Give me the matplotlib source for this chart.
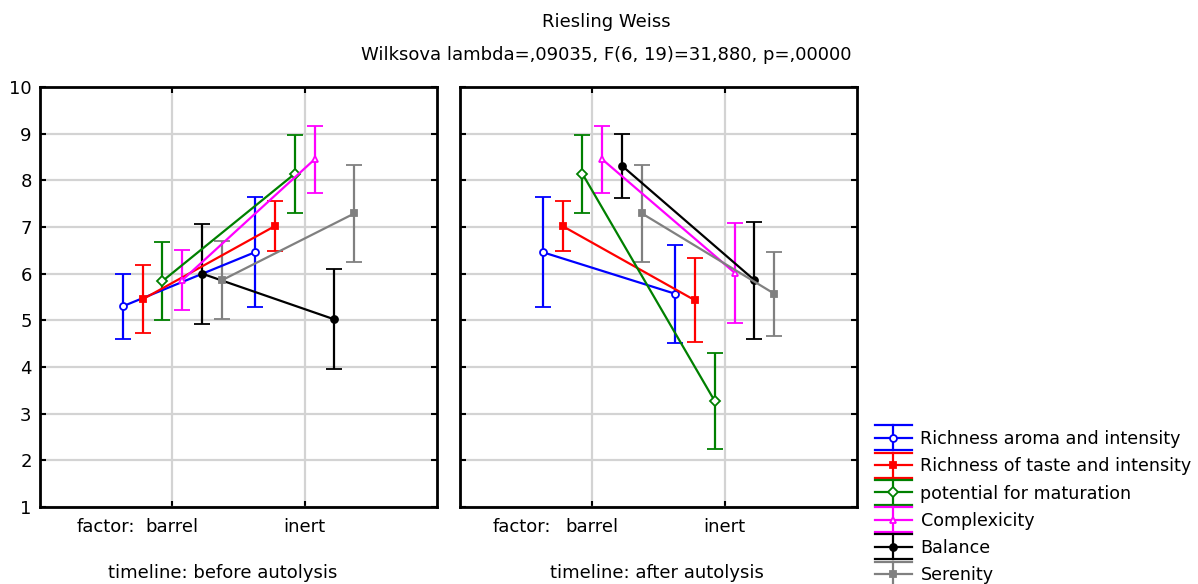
import matplotlib
matplotlib.use('Agg')
import matplotlib.pyplot as plt
from matplotlib.container import ErrorbarContainer
from matplotlib.legend_handler import HandlerBase
from matplotlib.lines import Line2D
import numpy as np

matplotlib.rcParams['font.family'] = ['DejaVu Sans']
matplotlib.rcParams['font.size'] = 13

factors = ['barrel', 'inert']
series = ['Richness aroma and intensity', 'Richness of taste and intensity',
          'potential for maturation', 'Complexicity', 'Balance', 'Serenity']
colors = ['#0000ff', '#ff0000', '#008000', '#ff00ff', '#000000', '#808080']
markers = ['o', 's', 'D', '^', 'o', 's']
filled = [False, True, False, False, True, True]

# means [barrel, inert] and half-width of the error bars
before_mean = [[5.30, 6.46], [5.45, 7.02], [5.84, 8.14], [5.86, 8.45], [6.00, 5.02], [5.86, 7.29]]
before_err = [[0.69, 1.18], [0.73, 0.54], [0.83, 0.83], [0.64, 0.72], [1.07, 1.07], [0.83, 1.03]]
after_mean = [[6.46, 5.57], [7.02, 5.43], [8.14, 3.27], [8.45, 6.02], [8.31, 5.86], [7.29, 5.57]]
after_err = [[1.18, 1.05], [0.54, 0.90], [0.83, 1.03], [0.72, 1.07], [0.69, 1.25], [1.03, 0.90]]
timelines = ['timeline: before autolysis', 'timeline: after autolysis']


class WideCapHandler(HandlerBase):
    # legend key like Statistica: caps as wide as the line
    def create_artists(self, legend, orig_handle, xdescent, ydescent, width, height, fontsize, trans):
        ln = orig_handle.lines[0]
        c = ln.get_color()
        x0, x1 = -xdescent, -xdescent + width
        yc = height / 2 - ydescent
        dy = 9.0
        xm = (x0 + x1) / 2
        arts = [Line2D([x0, x1], [yc, yc], color=c, lw=1.6),
                Line2D([x0, x1], [yc + dy, yc + dy], color=c, lw=1.6),
                Line2D([x0, x1], [yc - dy, yc - dy], color=c, lw=1.6),
                Line2D([xm, xm], [yc - dy, yc + dy], color=c, lw=1.6),
                Line2D([xm], [yc], marker=ln.get_marker(), markersize=5, color=c,
                       mfc=ln.get_markerfacecolor(), mec=c, mew=1.3)]
        for a in arts:
            a.set_transform(trans)
        return arts


fig = plt.figure(figsize=(11.98, 5.84), dpi=100)
W, H = 1198, 584
ax1 = fig.add_axes([40 / W, 77 / H, 397 / W, 420 / H])
ax2 = fig.add_axes([460 / W, 77 / H, 397 / W, 420 / H])

base = np.array([1, 2])
offsets = (np.arange(6) - 2.5) * 0.15
handles = []
for ax, means, errs, fx in [(ax1, before_mean, before_err, -27), (ax2, after_mean, after_err, -30)]:
    for i in range(6):
        h = ax.errorbar(base + offsets[i], means[i], yerr=errs[i], color=colors[i],
                        marker=markers[i], markersize=5, mfc=colors[i] if filled[i] else 'white',
                        mec=colors[i], mew=1.3, lw=1.6, elinewidth=1.6, capsize=6, capthick=1.6)
        if ax is ax1:
            handles.append(h)
    ax.set_xlim(0, 3)
    ax.set_ylim(1, 10)
    ax.set_yticks(range(1, 11))
    ax.set_xticks(base)
    ax.set_xticklabels(factors)
    ax.grid(True, color='#d3d3d3', lw=1.6)
    ax.set_axisbelow(True)
    ax.tick_params(direction='in', length=4, width=1.5, top=True, right=True, pad=6)
    ax.tick_params(axis='x', pad=8)
    for s in ax.spines.values():
        s.set_linewidth(2)
    ax.annotate('factor:', xy=(1, 0), xycoords=('data', 'axes fraction'),
                xytext=(fx, -8), textcoords='offset points', ha='right', va='top')

ax2.set_yticklabels([])

fig.text(223 / W, 1 - 573 / H, timelines[0], ha='center', va='center')
fig.text(657 / W, 1 - 573 / H, timelines[1], ha='center', va='center')

fig.text(606 / W, 1 - 22 / H, 'Riesling Weiss', ha='center', va='center')
fig.text(606 / W, 1 - 55 / H, 'Wilksova lambda=,09035, F(6, 19)=31,880, p=,00000',
         ha='center', va='center')

fig.legend(handles, series, loc='upper left', bbox_to_anchor=(875 / W, 1 - 430 / H),
           frameon=False, fontsize=12.6, handlelength=2.1, handletextpad=0.5,
           labelspacing=0.53, borderpad=0, borderaxespad=0,
           handler_map={ErrorbarContainer: WideCapHandler()})

fig.savefig('out.png', dpi=100)
